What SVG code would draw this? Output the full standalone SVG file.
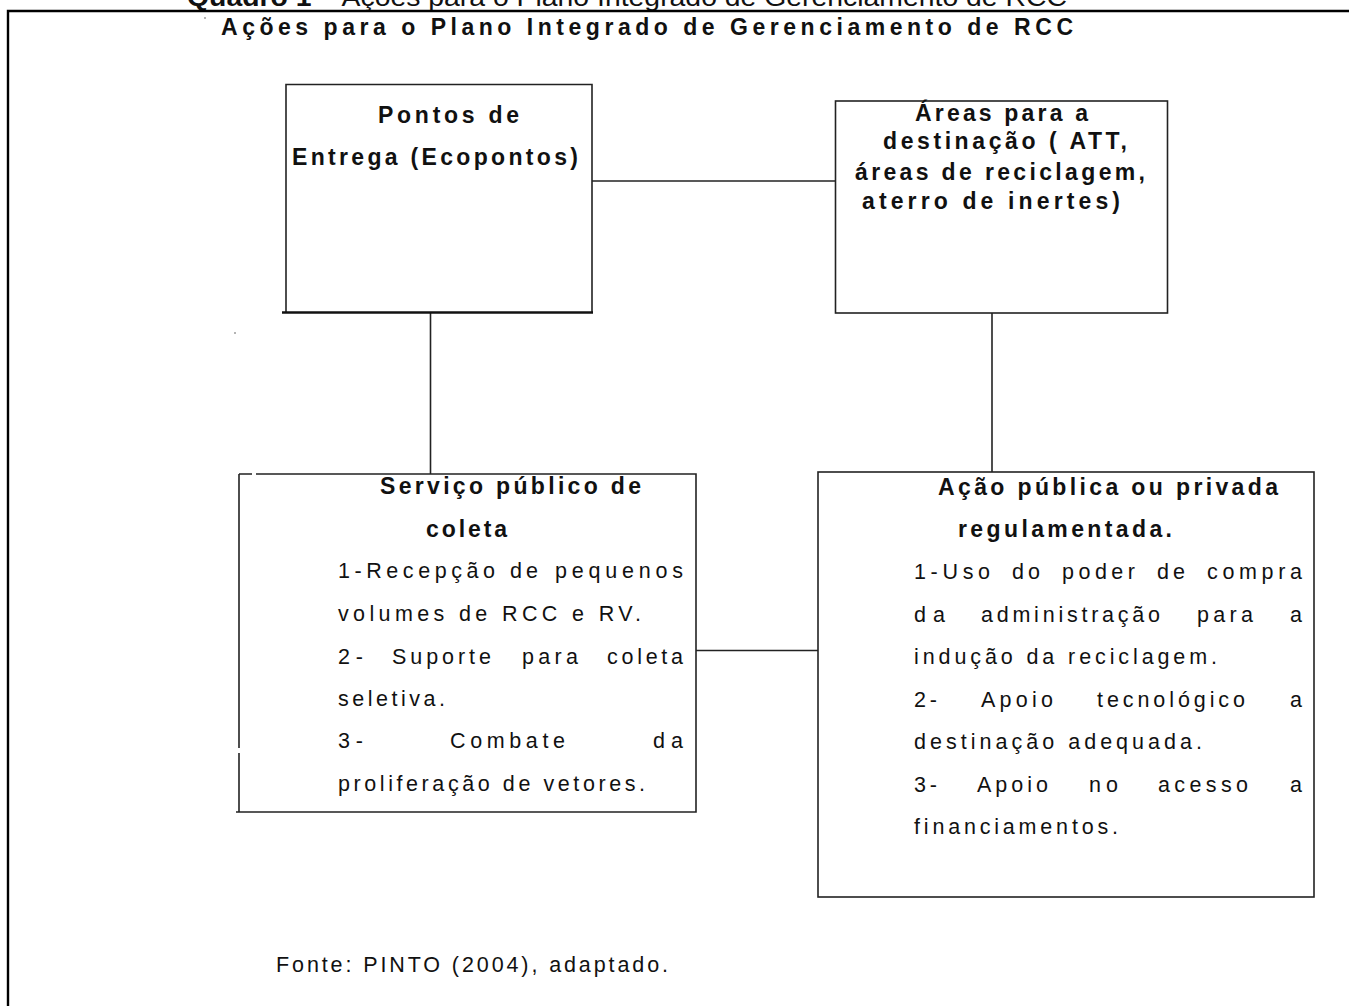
<svg xmlns="http://www.w3.org/2000/svg" width="1349" height="1006" viewBox="0 0 1349 1006">
<style>
text{font-family:"Liberation Sans",Arial,sans-serif;fill:#111}
.cap{font-size:26px}
.ttl{font-size:23px;font-weight:bold}
.hd{font-size:23px;font-weight:bold}
.bd{font-size:21.5px}
.box{fill:#fff;stroke:#222;stroke-width:1.6}
.ln{fill:none;stroke:#222;stroke-width:1.6}
.frame{fill:none;stroke:#000;stroke-width:2.4}
</style>
<rect x="0" y="0" width="1349" height="1006" fill="#fff"/>
<g id="caption">
<text class="cap" x="187" y="6" textLength="880" lengthAdjust="spacingAndGlyphs"><tspan font-weight="bold">Quadro 1</tspan> – Ações para o Plano Integrado de Gerenciamento de RCC</text>
</g>
<g id="frame">
<path class="frame" d="M8,1006 V11 H1349"/>
<circle cx="205" cy="18" r="0.8" fill="#555"/>
<circle cx="235" cy="333" r="0.8" fill="#555"/>
</g>
<g id="title">
<text class="ttl" x="221" y="35" textLength="852" lengthAdjust="spacing">Ações para o Plano Integrado de Gerenciamento de RCC</text>
</g>
<g id="connectors">
<line class="ln" x1="592" y1="181" x2="836" y2="181"/>
<line class="ln" x1="430.5" y1="312" x2="430.5" y2="474"/>
<line class="ln" x1="992" y1="313" x2="992" y2="472"/>
<line class="ln" x1="696" y1="650.5" x2="818" y2="650.5"/>
</g>
<g id="node-pontos">
<path class="ln" d="M286,312 V84.5 H592 V312"/>
<line x1="282" y1="312.5" x2="593" y2="312.5" stroke="#111" stroke-width="2.6"/>
<text class="hd" x="378" y="123" textLength="141" lengthAdjust="spacing">Pontos de</text>
<text class="hd" x="292" y="165" textLength="286" lengthAdjust="spacing">Entrega (Ecopontos)</text>
</g>
<g id="node-areas">
<rect class="box" x="835.5" y="101" width="332" height="212"/>
<text class="hd" x="915" y="121" textLength="173" lengthAdjust="spacing">Áreas para a</text>
<text class="hd" x="883" y="149" textLength="244" lengthAdjust="spacing">destinação ( ATT,</text>
<text class="hd" x="855" y="180" textLength="290" lengthAdjust="spacing">áreas de reciclagem,</text>
<text class="hd" x="862" y="209" textLength="258" lengthAdjust="spacing">aterro de inertes)</text>
</g>
<g id="node-servico">
<rect x="239" y="474" width="457" height="338" fill="#fff"/>
<path class="ln" d="M239,474 H252 M256,474 H696 V812 H236 M239,474 V748 M239,753 V812"/>
<text class="hd" x="380" y="494" textLength="261" lengthAdjust="spacing">Serviço público de</text>
<text class="hd" x="426" y="537" textLength="81" lengthAdjust="spacing">coleta</text>
<text class="bd" x="338" y="578" textLength="157" lengthAdjust="spacing">1-Recepção</text>
<text class="bd" x="510" y="578" textLength="28" lengthAdjust="spacing">de</text>
<text class="bd" x="555" y="578" textLength="128" lengthAdjust="spacing">pequenos</text>
<text class="bd" x="338" y="621" textLength="303" lengthAdjust="spacing">volumes de RCC e RV.</text>
<text class="bd" x="338" y="664" textLength="25" lengthAdjust="spacing">2-</text>
<text class="bd" x="392" y="664" textLength="99" lengthAdjust="spacing">Suporte</text>
<text class="bd" x="522" y="664" textLength="56" lengthAdjust="spacing">para</text>
<text class="bd" x="607" y="664" textLength="76" lengthAdjust="spacing">coleta</text>
<text class="bd" x="338" y="706" textLength="107" lengthAdjust="spacing">seletiva.</text>
<text class="bd" x="338" y="748" textLength="25" lengthAdjust="spacing">3-</text>
<text class="bd" x="450" y="748" textLength="115" lengthAdjust="spacing">Combate</text>
<text class="bd" x="653" y="748" textLength="30" lengthAdjust="spacing">da</text>
<text class="bd" x="338" y="791" textLength="307" lengthAdjust="spacing">proliferação de vetores.</text>
</g>
<g id="node-acao">
<rect class="box" x="818" y="472" width="496" height="425"/>
<text class="hd" x="938" y="495" textLength="340" lengthAdjust="spacing">Ação pública ou privada</text>
<text class="hd" x="958" y="537" textLength="214" lengthAdjust="spacing">regulamentada.</text>
<text class="bd" x="914" y="579" textLength="76" lengthAdjust="spacing">1-Uso</text>
<text class="bd" x="1012" y="579" textLength="28" lengthAdjust="spacing">do</text>
<text class="bd" x="1062" y="579" textLength="73" lengthAdjust="spacing">poder</text>
<text class="bd" x="1157" y="579" textLength="28" lengthAdjust="spacing">de</text>
<text class="bd" x="1207" y="579" textLength="95" lengthAdjust="spacing">compra</text>
<text class="bd" x="914" y="622" textLength="31" lengthAdjust="spacing">da</text>
<text class="bd" x="981" y="622" textLength="179" lengthAdjust="spacing">administração</text>
<text class="bd" x="1197" y="622" textLength="56" lengthAdjust="spacing">para</text>
<text class="bd" x="1302" y="622" text-anchor="end">a</text>
<text class="bd" x="914" y="664" textLength="303" lengthAdjust="spacing">indução da reciclagem.</text>
<text class="bd" x="914" y="707" textLength="23" lengthAdjust="spacing">2-</text>
<text class="bd" x="981" y="707" textLength="72" lengthAdjust="spacing">Apoio</text>
<text class="bd" x="1097" y="707" textLength="148" lengthAdjust="spacing">tecnológico</text>
<text class="bd" x="1302" y="707" text-anchor="end">a</text>
<text class="bd" x="914" y="749" textLength="288" lengthAdjust="spacing">destinação adequada.</text>
<text class="bd" x="914" y="792" textLength="23" lengthAdjust="spacing">3-</text>
<text class="bd" x="977" y="792" textLength="71" lengthAdjust="spacing">Apoio</text>
<text class="bd" x="1089" y="792" textLength="29" lengthAdjust="spacing">no</text>
<text class="bd" x="1158" y="792" textLength="90" lengthAdjust="spacing">acesso</text>
<text class="bd" x="1302" y="792" text-anchor="end">a</text>
<text class="bd" x="914" y="834" textLength="204" lengthAdjust="spacing">financiamentos.</text>
</g>
<g id="fonte">
<text class="bd" x="276" y="972" textLength="392" lengthAdjust="spacing">Fonte: PINTO (2004), adaptado.</text>
</g>
</svg>
